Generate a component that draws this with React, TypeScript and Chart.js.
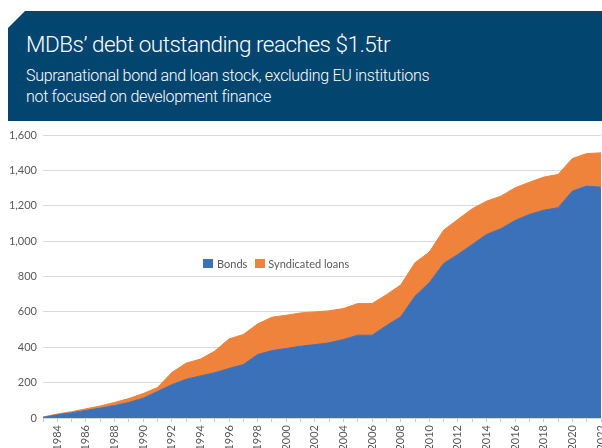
import React, { useEffect, useRef } from "react";
import { Chart, registerables } from "chart.js";

Chart.register(...registerables);

// ---- Data (US$bn) ----
const years = [
  "1983", "1984", "1985", "1986", "1987", "1988", "1989", "1990", "1991", "1992",
  "1993", "1994", "1995", "1996", "1997", "1998", "1999", "2000", "2001", "2002",
  "2003", "2004", "2005", "2006", "2007", "2008", "2009", "2010", "2011", "2012",
  "2013", "2014", "2015", "2016", "2017", "2018", "2019", "2020", "2021", "2022",
];

const bonds = [
  3, 18, 30, 43, 56, 70, 88, 112, 150, 188,
  219, 238, 256, 280, 302, 359, 381, 393, 406, 415,
  425, 444, 468, 468, 522, 572, 689, 765, 874, 925,
  981, 1038, 1070, 1117, 1151, 1175, 1189, 1283, 1311, 1305,
];

const syndicatedLoans = [
  3, 4, 6, 9, 12, 18, 22, 26, 22, 69,
  91, 95, 122, 167, 170, 173, 189, 188, 188, 185,
  181, 175, 179, 179, 175, 180, 189, 173, 188, 198,
  202, 188, 184, 185, 182, 187, 188, 184, 184, 194,
];

const yTickValues = [0, 200, 400, 600, 800, 1000, 1200, 1400, 1600];

const title = "MDBs\u2019 debt outstanding reaches $1.5tr";
const subtitleLines = [
  "Supranational bond and loan stock, excluding EU institutions",
  "not focused on development finance",
];
const seriesNames = ["Bonds", "Syndicated loans"];

const NAVY = "#02456F";
const BLUE = "#3B71B9";
const ORANGE = "#F0833B";
const TEXT_GRAY = "#595959";
const GRID = "#d9d9d9";
const FONT = "Lato, 'Open Sans', sans-serif";
const HEAD_FONT = "Roboto, 'Liberation Sans', sans-serif";

export default function App() {
  const canvasRef = useRef<HTMLCanvasElement | null>(null);

  useEffect(() => {
    const canvas = canvasRef.current;
    if (!canvas) return;
    const chart = new Chart(canvas, {
      type: "line",
      data: {
        labels: years,
        datasets: [
          {
            label: seriesNames[0],
            data: bonds,
            fill: "origin",
            backgroundColor: BLUE,
            borderColor: BLUE,
            borderWidth: 1,
            pointRadius: 0,
            tension: 0,
          },
          {
            label: seriesNames[1],
            data: syndicatedLoans,
            fill: "-1",
            backgroundColor: ORANGE,
            borderColor: ORANGE,
            borderWidth: 1,
            pointRadius: 0,
            tension: 0,
          },
        ],
      },
      options: {
        animation: false,
        responsive: false,
        maintainAspectRatio: false,
        devicePixelRatio: 1,
        layout: { padding: { top: 13, left: 0, right: 1, bottom: 0 } },
        plugins: {
          legend: { display: false },
          tooltip: { enabled: false },
        },
        scales: {
          x: {
            offset: false,
            grid: {
              display: true,
              drawOnChartArea: false,
              drawTicks: true,
              tickLength: 4,
              color: "#c8c8c8",
            },
            border: { display: true, color: GRID, width: 1 },
            ticks: {
              autoSkip: false,
              minRotation: 90,
              maxRotation: 90,
              padding: 3,
              color: TEXT_GRAY,
              font: { family: FONT, size: 11 },
              callback: (_v: any, i: number) =>
                parseInt(years[i], 10) % 2 === 0 ? years[i] : "",
            },
            afterFit: (s: any) => {
              s.paddingLeft = 0;
              s.paddingRight = 0;
              s.height = 44;
            },
          },
          y: {
            stacked: true,
            min: 0,
            max: 1600,
            afterBuildTicks: (s: any) => {
              s.ticks = yTickValues.map((v) => ({ value: v }));
            },
            grid: { color: GRID, drawTicks: false, lineWidth: 1 },
            border: { display: false },
            ticks: {
              padding: 6,
              color: TEXT_GRAY,
              font: { family: FONT, size: 11 },
              callback: (v: any) => Number(v).toLocaleString("en-US"),
            },
            afterFit: (s: any) => {
              s.paddingTop = 0;
              s.paddingBottom = 0;
              s.width = 43;
            },
          },
        },
      },
    });
    return () => chart.destroy();
  }, []);

  return (
    <div
      style={{
        position: "absolute",
        left: 0,
        top: 0,
        width: 602,
        height: 448,
        overflow: "hidden",
        background: "#ffffff",
        fontFamily: FONT,
      }}
    >
      <div
        style={{
          position: "absolute",
          left: 8,
          top: 11,
          width: 594,
          height: 110,
          background: NAVY,
          clipPath: "polygon(17px 0, 100% 0, 100% 100%, 0 100%, 0 17px)",
          color: "#ffffff",
          fontFamily: HEAD_FONT,
        }}
      >
        <div
          style={{
            position: "absolute",
            left: 18,
            top: 19,
            fontSize: 22.5,
            fontWeight: 300,
            letterSpacing: -0.5,
            whiteSpace: "nowrap",
            lineHeight: "28px",
          }}
        >
          {title}
        </div>
        <div
          style={{
            position: "absolute",
            left: 18,
            top: 54,
            fontSize: 16,
            fontWeight: 300,
            letterSpacing: -0.3,
            lineHeight: "21px",
            whiteSpace: "nowrap",
          }}
        >
          {subtitleLines.map((l, i) => (
            <div key={i}>{l}</div>
          ))}
        </div>
      </div>

      <canvas
        ref={canvasRef}
        width={602}
        height={340}
        style={{ position: "absolute", left: 0, top: 122, width: 602, height: 340 }}
      />

      <div
        style={{
          position: "absolute",
          left: 203,
          top: 257,
          display: "flex",
          alignItems: "center",
          fontSize: 11,
          color: TEXT_GRAY,
          whiteSpace: "nowrap",
          lineHeight: "13px",
        }}
      >
        <span style={{ display: "inline-block", width: 10, height: 9, background: BLUE, marginRight: 4 }} />
        <span style={{ marginRight: 8 }}>{seriesNames[0]}</span>
        <span style={{ display: "inline-block", width: 10, height: 9, background: ORANGE, marginRight: 3 }} />
        <span>{seriesNames[1]}</span>
      </div>
    </div>
  );
}
